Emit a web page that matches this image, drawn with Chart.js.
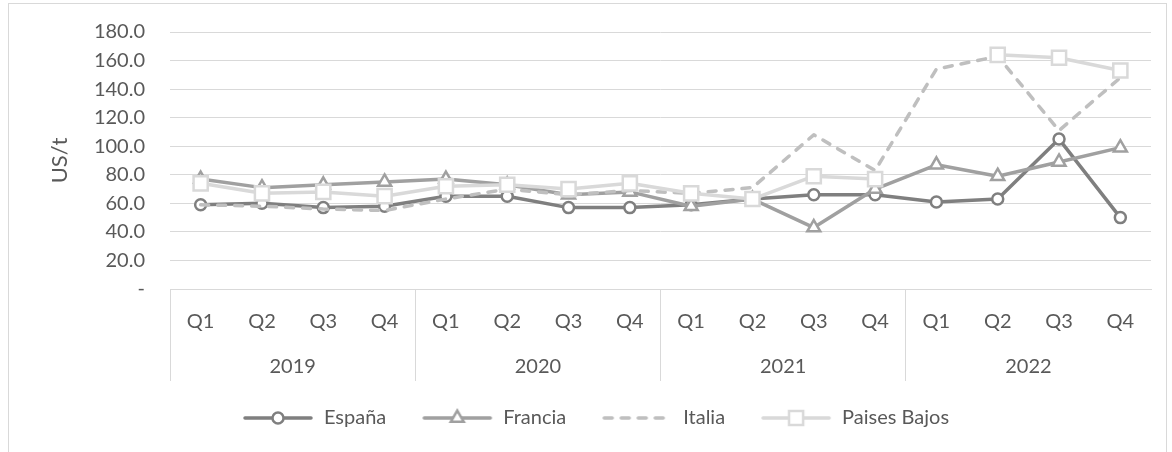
<!DOCTYPE html>
<html>
<head>
<meta charset="utf-8">
<script src="https://cdn.jsdelivr.net/npm/chart.js@4"></script>
<style>
  body { margin: 0; background: #fff; }
  .marco { position: absolute; left: 8px; top: 3px; width: 1157px; height: 470px; border: 1px solid #d9d9d9; }
  .lienzo { position: absolute; left: 0; top: 0; width: 1172px; height: 452px; }
</style>
</head>
<body>
<div class="marco"></div>
<div class="lienzo"><canvas id="precios"></canvas></div>
<script>
(function(){
    const trimestres = ['Q1','Q2','Q3','Q4','Q1','Q2','Q3','Q4','Q1','Q2','Q3','Q4','Q1','Q2','Q3','Q4'];
    const anios = ['2019','2020','2021','2022'];

    const espana      = [59, 60, 57, 58,  65, 65, 57, 57,  59, 63, 66, 66,  61, 63, 105, 50];
    const francia     = [77, 71, 73, 75,  77, 73, 66, 68,  58, 63, 43, 70,  87, 79, 89, 99];
    const italia      = [59, 58, 56, 55,  63, 70, 66, 69,  67, 71, 108, 83,  154, 163, 111, 148];
    const paisesBajos = [74, 67, 68, 65,  72, 73, 70, 74,  67, 63, 79, 77,  null, 164, 162, 153];

    const gris = '#595959';
    const fuente = 'Lato, "Open Sans", sans-serif';

    // simbolo de la leyenda: tramo de linea con el marcador en medio
    function simbolo(color, estilo, radio, guiones) {
        const c = document.createElement('canvas');
        c.width = 72; c.height = 24;
        const g = c.getContext('2d');
        g.strokeStyle = color;
        g.lineWidth = 3.5;
        g.lineCap = 'round';
        if (guiones) g.setLineDash(guiones);
        g.beginPath(); g.moveTo(3, 12); g.lineTo(69, 12); g.stroke();
        g.setLineDash([]);
        g.lineWidth = 2.5;
        g.fillStyle = '#fff';
        g.beginPath();
        if (estilo === 'circle') {
            g.arc(36, 12, radio, 0, Math.PI * 2);
        } else if (estilo === 'triangle') {
            let a = 0;
            g.moveTo(36 + Math.sin(a) * radio, 12 - Math.cos(a) * radio);
            a += Math.PI * 2 / 3;
            g.lineTo(36 + Math.sin(a) * radio, 12 - Math.cos(a) * radio);
            a += Math.PI * 2 / 3;
            g.lineTo(36 + Math.sin(a) * radio, 12 - Math.cos(a) * radio);
            g.closePath();
        } else if (estilo === 'rect') {
            const s = radio * Math.SQRT1_2;
            g.rect(36 - s, 12 - s, s * 2, s * 2);
        }
        if (estilo) { g.fill(); g.stroke(); }
        return c;
    }

    const series = [
        {label: 'España', data: espana, color: '#7f7f7f', estilo: 'circle', radio: 5.5, order: 3},
        {label: 'Francia', data: francia, color: '#a0a0a0', estilo: 'triangle', radio: 7.5, order: 2},
        {label: 'Italia', data: italia, color: '#bfbfbf', estilo: false, radio: 0, order: 1, guiones: [8, 9]},
        {label: 'Paises Bajos', data: paisesBajos, color: '#d9d9d9', estilo: 'rect', radio: 10, order: 0}
    ];

    const simbolos = series.map(s => simbolo(s.color, s.estilo, s.radio, s.guiones));

    const ctx = document.getElementById('precios');

    new Chart(ctx, {
        type: 'line',
        data: {
            labels: trimestres,
            datasets: series.map(s => ({
                label: s.label,
                data: s.data,
                order: s.order,
                borderColor: s.color,
                borderWidth: 3.5,
                borderDash: s.guiones || [],
                borderCapStyle: 'round',
                borderJoinStyle: 'round',
                tension: 0,
                spanGaps: false,
                pointStyle: s.estilo,
                pointRadius: s.estilo ? s.radio : 0,
                pointHoverRadius: s.estilo ? s.radio : 0,
                pointBorderWidth: 2.5,
                pointBorderColor: s.color,
                pointBackgroundColor: '#fff'
            }))
        },
        options: {
            responsive: true,
            maintainAspectRatio: false,
            animation: false,
            layout: {
                padding: {left: 40, right: 21, top: 32, bottom: 14}
            },
            scales: {
                x: {
                    type: 'category',
                    offset: true,
                    weight: 0,
                    grid: {
                        offset: true,
                        drawOnChartArea: false,
                        drawTicks: true,
                        tickLength: 92,
                        color: c => (c.index % 4 === 0 ? '#d9d9d9' : 'rgba(0,0,0,0)'),
                        lineWidth: 1
                    },
                    border: {display: true, color: '#d9d9d9', width: 1},
                    ticks: {
                        color: gris,
                        font: {family: fuente, size: 20},
                        padding: -71,
                        maxRotation: 0,
                        autoSkip: false
                    },
                    afterFit: scale => { scale.height = 42; }
                },
                anio: {
                    type: 'category',
                    position: 'bottom',
                    labels: anios,
                    offset: true,
                    weight: 1,
                    grid: {display: false},
                    border: {display: false},
                    ticks: {
                        color: gris,
                        font: {family: fuente, size: 20},
                        padding: 16,
                        maxRotation: 0,
                        autoSkip: false
                    },
                    afterFit: scale => { scale.height = 42; }
                },
                y: {
                    min: 0,
                    max: 180,
                    ticks: {
                        stepSize: 20,
                        color: gris,
                        font: {family: fuente, size: 20},
                        padding: 25,
                        callback: v => (v === 0 ? '-' : v.toFixed(1))
                    },
                    grid: {color: '#d9d9d9', lineWidth: 1, drawTicks: false},
                    border: {display: false},
                    title: {
                        display: true,
                        text: 'US/t',
                        color: gris,
                        font: {family: fuente, size: 22},
                        padding: {top: 7, bottom: 0}
                    },
                    afterFit: scale => {
                        scale.width = 130;
                        scale.paddingTop = 0;
                        scale.paddingBottom = 0;
                    }
                }
            },
            plugins: {
                legend: {
                    position: 'bottom',
                    labels: {
                        usePointStyle: true,
                        pointStyleWidth: 72,
                        boxHeight: 14,
                        padding: 35,
                        color: gris,
                        font: {family: fuente, size: 20},
                        generateLabels: chart => chart.data.datasets.map((ds, i) => ({
                            text: ds.label,
                            pointStyle: simbolos[i],
                            fillStyle: '#fff',
                            strokeStyle: series[i].color,
                            lineWidth: 0,
                            fontColor: gris,
                            hidden: false,
                            datasetIndex: i
                        }))
                    }
                },
                tooltip: {enabled: false}
            }
        }
    });
})();
</script>
</body>
</html>
